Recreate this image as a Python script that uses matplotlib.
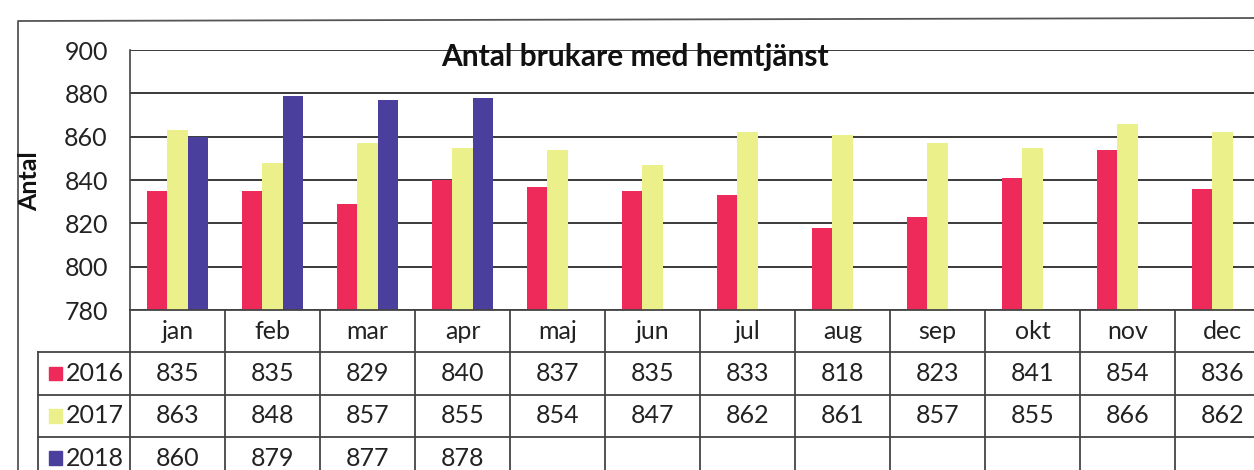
import matplotlib
matplotlib.use("Agg")
import matplotlib.pyplot as plt
from matplotlib.lines import Line2D
from matplotlib.patches import Rectangle
import numpy as np

months = ["jan", "feb", "mar", "apr", "maj", "jun", "jul", "aug", "sep", "okt", "nov", "dec"]
series_names = ["2016", "2017", "2018"]
v2016 = [835, 835, 829, 840, 837, 835, 833, 818, 823, 841, 854, 836]
v2017 = [863, 848, 857, 855, 854, 847, 862, 861, 857, 855, 866, 862]
v2018 = [860, 879, 877, 878]
yticks = [780, 800, 820, 840, 860, 880, 900]
title = "Antal brukare med hemtjänst"
ylabel = "Antal"

colors = ["#EE2A5A", "#ECF08A", "#4B3F9E"]
series = [v2016, v2017, v2018]

W, H = 1254, 470
plt.rcParams['font.family'] = ['Lato', 'DejaVu Sans']
fig = plt.figure(figsize=(W / 100, H / 100), dpi=100)
fig.patch.set_facecolor("white")

FS = 18
# main plot axes: x from 130 to 1270 px, y from 50 to 310 px
ax = fig.add_axes([130 / W, (H - 310) / H, 1140 / W, 260 / H])
ax.set_xlim(-0.5, 11.5)
ax.set_ylim(780, 900)
x = np.arange(len(months))
bw = 0.215
offs = [-bw, 0, bw]
for s, vals, c, o in zip(series_names, series, colors, offs):
    xs = x[:len(vals)] + o
    ax.bar(xs, np.array(vals) - 780, bottom=780, width=bw, color=c, edgecolor="none", zorder=3)

ax.set_yticks(yticks)
ax.set_yticklabels([str(t) for t in yticks], fontsize=FS, color="#222222")
ax.tick_params(axis="y", length=0, pad=16)
ax.set_xticks([])
ax.grid(axis="y", color="#3a3a3a", linewidth=1.4, zorder=1)
for sp in ["top", "right", "bottom"]:
    ax.spines[sp].set_visible(False)
ax.spines["left"].set_color("#444444")
ax.spines["left"].set_linewidth(1.2)
ax.text(0.443, 0.972, title, transform=ax.transAxes, fontsize=21.5, fontweight="bold",
        color="#111111", ha="center", va="center", zorder=5)
fig.text(30 / W, 1 - 181 / H, ylabel, rotation=90, fontsize=FS, fontweight="bold",
         ha="center", va="center", color="#111111")

# table axes sharing x-scale, rows of height 1 starting at y=310 px
rowh = 42.3
tax = fig.add_axes([130 / W, 0, 1140 / W, (H - 310) / H])
tax.set_xlim(-0.5, 11.5)
tax.set_ylim((H - 310) / rowh, 0)
tax.axis("off")
lc = "#444444"
lw = 1.3
label_left = -0.5 - 92 / 95
bottom = (H - 310) / rowh + 0.5
# horizontal lines
tax.plot([-0.5, 11.5], [0, 0], color=lc, lw=lw, clip_on=False)
for r in [1, 2, 3]:
    tax.plot([label_left, 11.5], [r, r], color=lc, lw=lw, clip_on=False)
# vertical lines
for k in range(13):
    tax.plot([-0.5 + k, -0.5 + k], [0, bottom], color=lc, lw=lw, clip_on=False)
tax.plot([label_left, label_left], [1, bottom], color=lc, lw=lw, clip_on=False)

for i, m in enumerate(months):
    tax.text(i, 0.5, m, ha="center", va="center", fontsize=FS, color="#222222")
for r, (s, vals, c) in enumerate(zip(series_names, series, colors)):
    y = r + 1.5
    tax.add_patch(Rectangle((label_left + 0.12, y - 0.16), 0.13, 0.32, color=c, clip_on=False))
    tax.text(label_left + 0.29, y, s, ha="left", va="center", fontsize=FS, color="#222222")
    for i, v in enumerate(vals):
        tax.text(i, y, str(v), ha="center", va="center", fontsize=FS, color="#222222")

# outer frame of the scanned chart
fig.add_artist(Line2D([18 / W, 18 / W, 1.0], [0, 1 - 21 / H, 1 - 18 / H],
                      transform=fig.transFigure, color="#555555", lw=1.3))

fig.savefig("out.png", dpi=100, facecolor="white")
